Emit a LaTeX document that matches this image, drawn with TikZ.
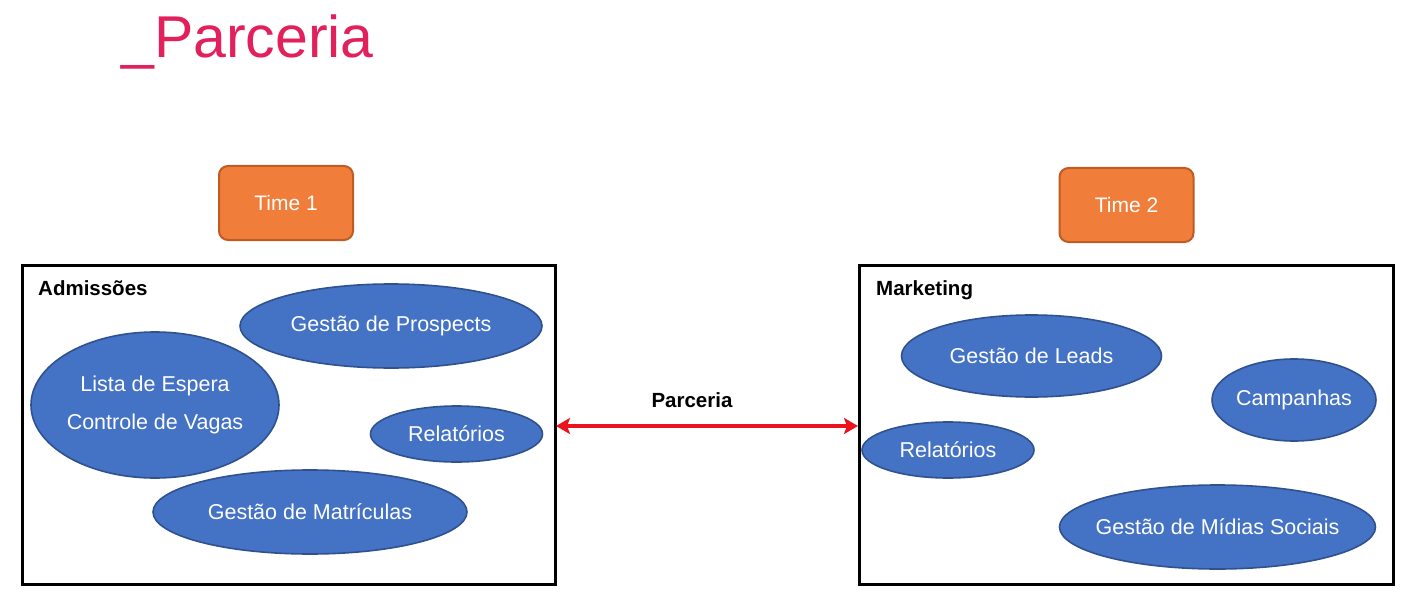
\documentclass[tikz,border=0pt]{standalone}
\usepackage{fontspec}
\setmainfont{Liberation Sans}
\usetikzlibrary{shapes.geometric,arrows.meta}
\definecolor{titlepink}{RGB}{226,32,92}
\definecolor{ofill}{RGB}{240,125,58}
\definecolor{odraw}{RGB}{190,92,35}
\definecolor{bfill}{RGB}{68,114,196}
\definecolor{bdraw}{RGB}{47,82,143}
\definecolor{arrred}{RGB}{235,20,30}
\begin{document}
\begin{tikzpicture}[x=1pt,y=-1pt,
  teambox/.style={draw=odraw,line width=2pt,fill=ofill,rounded corners=9pt,minimum width=134pt,minimum height=74pt,inner sep=0pt,text=white,font=\fontsize{21}{24}\selectfont},
  areabox/.style={draw=black,line width=3pt},
  area label/.style={anchor=base west,font=\bfseries\fontsize{20.5}{24}\selectfont,inner sep=0pt},
  blob/.style={ellipse,draw=bdraw,line width=1.6pt,fill=bfill,inner sep=0pt},
  blobtext/.style={inner sep=0pt,text=white,font=\fontsize{21.5}{38}\selectfont,align=center}]
\useasboundingbox (0,0) rectangle (1417,615);
\node[anchor=base west,inner sep=0pt,text=titlepink,font=\fontsize{59}{64}\selectfont] (title) at (121,58) {\_Parceria};
\node[teambox] (t1) at (286,203) {Time 1};
\node[teambox] (t2) at (1126.5,205) {Time 2};
\draw[areabox] (22,265) rectangle (555,584);
\draw[areabox] (859,265) rectangle (1393,584);
\coordinate (leftedge) at (556,426);
\coordinate (rightedge) at (858,426);
\node[area label] (adm) at (38,295) {Admissões};
\node[area label] (mkt) at (876,295) {Marketing};
\node[blob,minimum width=302pt,minimum height=84pt] (gp) at (391,326) {};
\node[blobtext] at (gp) {Gestão de Prospects};
\node[blob,minimum width=248pt,minimum height=146pt] (le) at (155,405) {};
\node[blobtext] at (le) {Lista de Espera\\Controle de Vagas};
\node[blob,minimum width=172pt,minimum height=56pt] (r1) at (456.5,434) {};
\node[blobtext] at (r1) {Relatórios};
\node[blob,minimum width=314pt,minimum height=84pt] (gm) at (310,512) {};
\node[blobtext] at (gm) {Gestão de Matrículas};
\node[blob,minimum width=260pt,minimum height=82pt] (gl) at (1031.5,356) {};
\node[blobtext] at (gl) {Gestão de Leads};
\node[blob,minimum width=164pt,minimum height=82pt] (cp) at (1294,400) {};
\node[blobtext] at (cp) {Campanhas};
\node[blob,minimum width=172pt,minimum height=56pt] (r2) at (948,450) {};
\node[blobtext] at (r2) {Relatórios};
\node[blob,minimum width=316pt,minimum height=84pt] (gs) at (1217.5,527) {};
\node[blobtext] at (gs) {Gestão de Mídias Sociais};
\draw[arrred,line width=3.5pt,{Stealth[length=14pt,width=16pt,inset=3pt]}-{Stealth[length=14pt,width=16pt,inset=3pt]}] (leftedge) -- (rightedge);
\node[anchor=base,inner sep=0pt,font=\bfseries\fontsize{20.5}{24}\selectfont] (pl) at (692,407) {Parceria};
\end{tikzpicture}
\end{document}
